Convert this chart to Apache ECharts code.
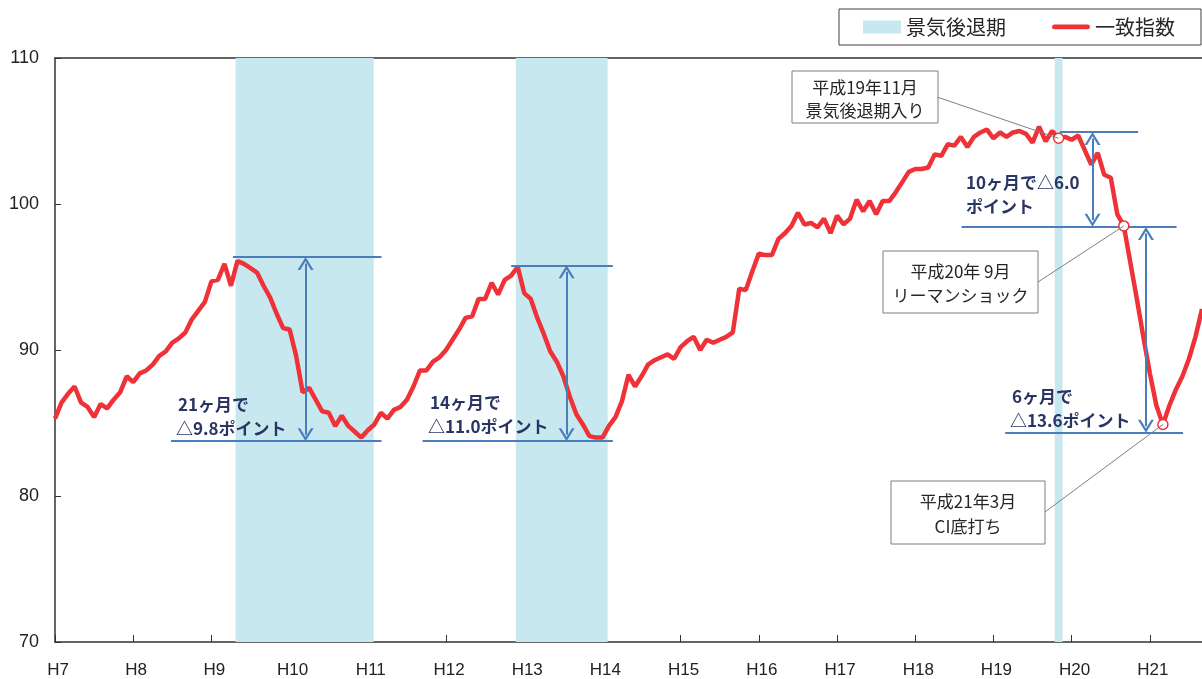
<!DOCTYPE html>
<html>
<head>
<meta charset="utf-8">
<script src="https://cdn.jsdelivr.net/npm/echarts@6/dist/echarts.min.js"></script>
<style>
  html, body { margin: 0; padding: 0; background: #fff; }
  #chart { width: 1202px; height: 679px; }
</style>
</head>
<body>
<div id="chart"></div>
<script>
// 一致指数 (月次, H7年1月 = 0)
var yearLabels = ['H7', 'H8', 'H9', 'H10', 'H11', 'H12', 'H13', 'H14', 'H15', 'H16', 'H17', 'H18', 'H19', 'H20', 'H21'];
var ciValues = [
    85.3, 86.4, 87.0, 87.5, 86.4, 86.1, 85.4, 86.3, 86.0, 86.6,
    87.1, 88.2, 87.8, 88.4, 88.6, 89.0, 89.6, 89.9, 90.5, 90.8,
    91.2, 92.1, 92.7, 93.3, 94.7, 94.8, 95.9, 94.4, 96.1, 95.9,
    95.6, 95.3, 94.4, 93.6, 92.5, 91.5, 91.4, 89.6, 87.1, 87.4,
    86.6, 85.8, 85.7, 84.8, 85.5, 84.8, 84.4, 84.0, 84.5, 84.9,
    85.7, 85.3, 85.9, 86.1, 86.6, 87.5, 88.6, 88.6, 89.2, 89.5,
    90.0, 90.7, 91.4, 92.2, 92.3, 93.5, 93.5, 94.6, 93.8, 94.8,
    95.1, 95.7, 93.9, 93.5, 92.2, 91.1, 89.9, 89.2, 88.2, 86.8,
    85.6, 84.9, 84.1, 84.0, 84.0, 84.8, 85.4, 86.5, 88.3, 87.5,
    88.2, 89.0, 89.3, 89.5, 89.7, 89.4, 90.2, 90.6, 90.9, 90.0,
    90.7, 90.5, 90.7, 90.9, 91.2, 94.2, 94.1, 95.4, 96.6, 96.5,
    96.5, 97.6, 98.0, 98.5, 99.4, 98.6, 98.7, 98.4, 99.0, 98.0,
    99.2, 98.6, 99.0, 100.3, 99.5, 100.2, 99.3, 100.2, 100.2, 100.8,
    101.5, 102.2, 102.4, 102.4, 102.5, 103.4, 103.3, 104.1, 104.0, 104.6,
    103.9, 104.6, 104.9, 105.1, 104.5, 104.9, 104.6, 104.9, 105.0, 104.8,
    104.2, 105.3, 104.3, 105.0, 104.5, 104.6, 104.4, 104.7, 103.7, 102.7,
    103.5, 102.0, 101.8, 99.3, 98.5, 96.0, 93.5, 90.9, 88.4, 86.2,
    84.9, 86.2, 87.3, 88.2, 89.4, 90.9, 92.8
];
// 景気後退期 (月インデックス)
var recessionStart = [27.7, 70.7, 153.4];
var recessionEnd = [48.9, 84.8, 154.6];
// 丸印をつける月: H19年11月, H20年9月, H21年3月
var markMonths = [154, 164, 170];

var lineData = ciValues.map(function (v, i) { return [i, v]; });
var lastMonth = ciValues.length - 1;

var RED = '#ee3238';
var SHADE = '#c8e8ef';
var BLUE = '#4a7ebb';
var NAVY = '#2b3564';
var CJK = '"Noto Sans CJK JP", sans-serif';
var ARROW = 'path://M0,13 L8,0 L16,13 L13.4,13 L8,4.2 L2.6,13 Z';
// 凡例用の太線 (上下に見えない点を置いて高さを保つ)
var LEGEND_LINE = 'path://M0,0 L0.01,0 L0.01,0.01 Z M1.5,4 L36.5,4 A2.5,2.5 0 0 1 36.5,9 L1.5,9 A2.5,2.5 0 0 1 1.5,4 Z M0,13 L0.01,13 L0.01,12.99 Z';

function hLine(x1, x2, y) {
    return [{ coord: [x1, y] }, { coord: [x2, y] }];
}
function vArrow(x, y1, y2) {
    return [
        { coord: [x, y1], symbol: ARROW, symbolSize: [16, 13] },
        { coord: [x, y2], symbol: ARROW, symbolSize: [16, 13] }
    ];
}

var chartDom = document.getElementById('chart');
var myChart = echarts.init(chartDom);

var option = {
    animation: false,
    grid: { left: 55, right: 0, top: 58, bottom: 36 },
    legend: {
        left: 839,
        top: 9,
        padding: [8, 26, 8, 24],
        borderColor: '#404040',
        borderWidth: 1,
        itemGap: 46,
        itemWidth: 38,
        itemHeight: 13,
        textStyle: { fontSize: 20, color: '#262626', fontFamily: CJK },
        data: [
            { name: '景気後退期', icon: 'rect' },
            { name: '一致指数', icon: LEGEND_LINE }
        ]
    },
    xAxis: [{
        type: 'value',
        min: 0,
        max: lastMonth,
        interval: 12,
        axisLine: { lineStyle: { color: '#333', width: 1.5 } },
        axisTick: { inside: true, length: 7, lineStyle: { color: '#333' } },
        axisLabel: {
            margin: 20,
            padding: [0, 0, 0, 6],
            fontSize: 17,
            color: '#222',
            fontFamily: 'Liberation Sans',
            showMaxLabel: false,
            formatter: function (v) {
                return v % 12 === 0 ? yearLabels[v / 12] : '';
            }
        },
        splitLine: { show: false }
    }, {
        type: 'value',
        position: 'top',
        min: 0,
        max: lastMonth,
        axisLine: { show: true, onZero: false, lineStyle: { color: '#333', width: 1.5 } },
        axisTick: { show: false },
        axisLabel: { show: false },
        splitLine: { show: false }
    }],
    yAxis: {
        type: 'value',
        min: 70,
        max: 110,
        interval: 10,
        axisLine: { show: true, lineStyle: { color: '#333', width: 1.5 } },
        axisTick: { show: true, inside: true, length: 6, lineStyle: { color: '#333' } },
        axisLabel: { margin: 16, fontSize: 18, color: '#222', fontFamily: 'Liberation Sans' },
        splitLine: { show: false }
    },
    series: [
        {
            name: '景気後退期',
            type: 'line',
            data: [],
            itemStyle: { color: SHADE },
            markArea: {
                silent: true,
                itemStyle: { color: SHADE },
                data: recessionStart.map(function (s, i) {
                    return [{ xAxis: s }, { xAxis: recessionEnd[i] }];
                })
            }
        },
        {
            name: '一致指数',
            type: 'line',
            data: lineData,
            symbol: 'none',
            z: 3,
            itemStyle: { color: RED },
            lineStyle: { color: RED, width: 4.5 },
            markLine: {
                silent: true,
                symbol: 'none',
                label: { show: false },
                lineStyle: { color: BLUE, width: 2, type: 'solid' },
                data: [
                    hLine(27.3, 50.1, 96.36),
                    hLine(17.8, 50.1, 83.76),
                    vArrow(38.45, 95.92, 84.2),
                    hLine(70.0, 85.6, 95.8),
                    hLine(56.4, 85.6, 83.76),
                    vArrow(78.5, 95.36, 84.2),
                    hLine(154.2, 166.2, 104.92),
                    vArrow(159.2, 104.48, 98.88),
                    hLine(139.1, 172.1, 98.42),
                    vArrow(167.4, 97.98, 84.78),
                    hLine(145.8, 173.1, 84.34)
                ]
            },
            markPoint: {
                silent: true,
                symbol: 'circle',
                symbolSize: 10,
                itemStyle: { color: '#fff', borderColor: RED, borderWidth: 1.5 },
                label: { show: false },
                data: markMonths.map(function (m) {
                    return { coord: [m, ciValues[m]] };
                })
            }
        }
    ]
};
myChart.setOption(option);

// 吹き出しと注記
function px(m) {
    return myChart.convertToPixel({ seriesIndex: 1 }, [m, ciValues[m]]);
}
function note(text, x, y) {
    return {
        type: 'text', x: x, y: y, z: 20,
        style: {
            text: text, fill: NAVY, fontSize: 17, fontWeight: 'bold',
            fontFamily: CJK, verticalAlign: 'middle'
        }
    };
}
function callout(text, box, lh, anchor, target) {
    return [
        {
            type: 'line', z: 19,
            shape: { x1: anchor[0], y1: anchor[1], x2: target[0], y2: target[1] },
            style: { stroke: '#7f7f7f', lineWidth: 1 }
        },
        {
            type: 'rect', z: 20,
            shape: { x: box[0], y: box[1], width: box[2], height: box[3] },
            style: { fill: '#fff', stroke: '#7f7f7f', lineWidth: 1 }
        },
        {
            type: 'text', z: 21,
            x: box[0] + box[2] / 2, y: box[1] + box[3] / 2 + 2,
            style: {
                text: text, fill: '#262626', fontSize: 17, fontFamily: CJK,
                align: 'center', verticalAlign: 'middle', lineHeight: lh
            }
        }
    ];
}

var graphics = [
    note('21ヶ月で', 178, 405),
    note('△9.8ポイント', 176, 429),
    note('14ヶ月で', 430, 403),
    note('△11.0ポイント', 428, 427),
    note('10ヶ月で△6.0', 966, 183),
    note('ポイント', 966, 207),
    note('6ヶ月で', 1012, 397),
    note('△13.6ポイント', 1010, 421)
];
graphics = graphics.concat(
    callout('平成19年11月\n景気後退期入り', [792, 71, 146, 52], 23, [937, 97], px(154)),
    callout('平成20年 9月\nリーマンショック', [883, 251, 155, 62], 24, [1038, 282], px(164)),
    callout('平成21年3月\nCI底打ち', [891, 481, 154, 63], 25, [1045, 512], px(170))
);
myChart.setOption({ graphic: graphics });

window.addEventListener('resize', function () {
    myChart.resize();
});
</script>
</body>
</html>
